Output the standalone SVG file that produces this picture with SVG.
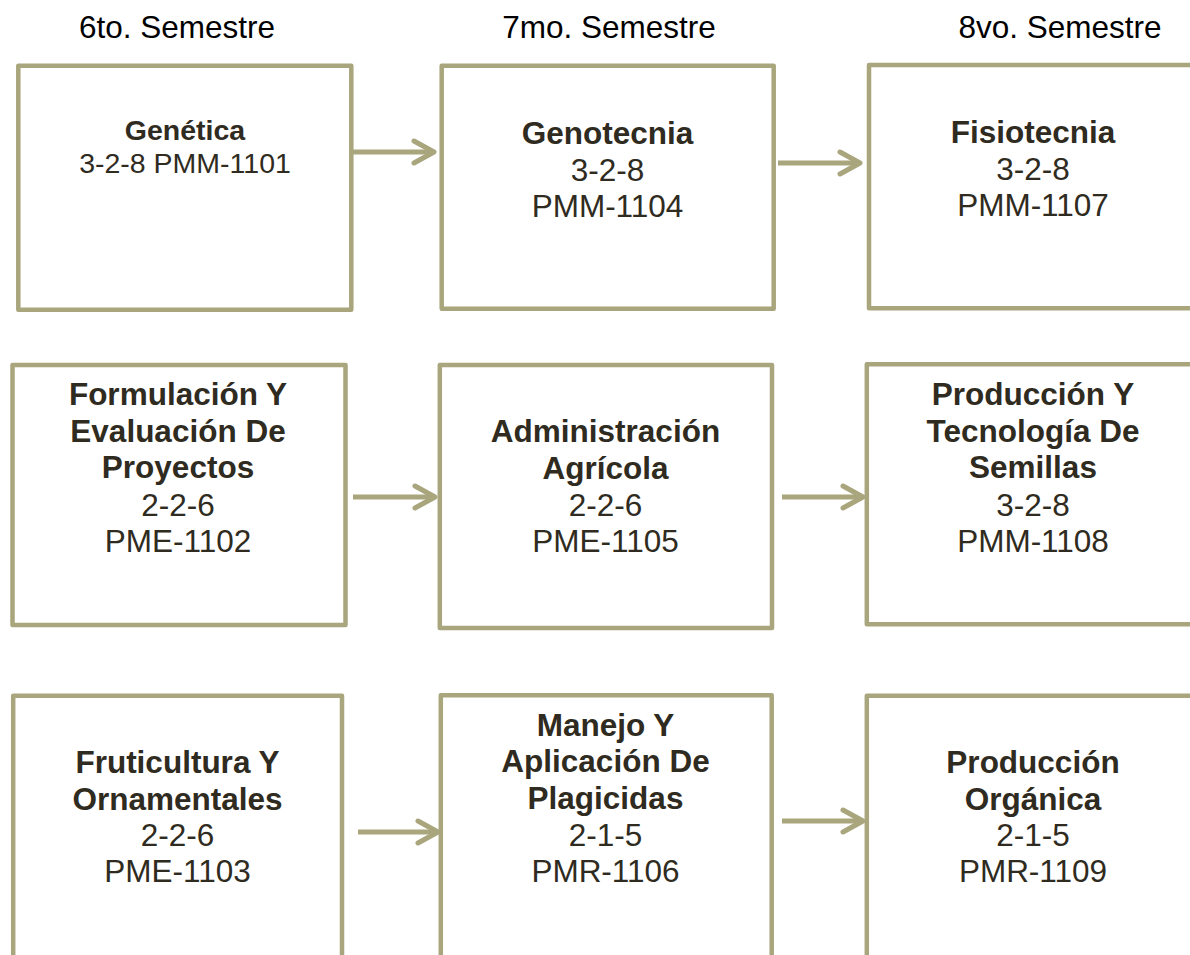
<svg xmlns="http://www.w3.org/2000/svg" width="1190" height="955" viewBox="0 0 1190 955">
  <style>
    .box { fill: #FFFFFF; stroke: #A9A57D; stroke-width: 4.5; stroke-linejoin: round; }
    .hdr { font-family: "Liberation Sans", Arial, sans-serif; font-size: 31.5px; fill: #000000; text-anchor: middle; }
    .t { font-family: "Liberation Sans", Arial, sans-serif; font-size: 31.5px; fill: #2F2B21; text-anchor: middle; }
    .b { font-weight: bold; }
    .sm { font-size: 28.5px; }
    .conn { fill: none; stroke: #A9A57D; stroke-width: 5; marker-end: url(#arrow); }
  </style>
  <defs>
    <marker id="arrow" markerUnits="userSpaceOnUse" viewBox="-26 -15 30 30" markerWidth="30" markerHeight="30" refX="-3" refY="0" orient="auto" overflow="visible">
      <path d="M -20,-11 L 0,0 L -20,11" fill="none" stroke="#A9A57D" stroke-width="5" stroke-linecap="round" stroke-linejoin="round"/>
    </marker>
  </defs>
  <rect width="1190" height="955" fill="#FFFFFF"/>

  <g id="headers">
    <text class="hdr" x="177" y="38">6to. Semestre</text>
    <text class="hdr" x="609" y="38">7mo. Semestre</text>
    <text class="hdr" x="1060" y="38">8vo. Semestre</text>
  </g>

  <g id="connectors">
    <line class="conn" x1="353" y1="152" x2="431" y2="152"/>
    <line class="conn" x1="778" y1="163" x2="857" y2="163"/>
    <line class="conn" x1="353" y1="497" x2="432" y2="497"/>
    <line class="conn" x1="782" y1="497" x2="860" y2="497"/>
    <line class="conn" x1="358" y1="832" x2="435" y2="832"/>
    <line class="conn" x1="782" y1="821" x2="860" y2="821"/>
  </g>

  <g id="genetica">
    <rect class="box" x="18.3" y="65.8" width="333" height="244"/>
    <text class="t b sm" x="185" y="140">Genética</text>
    <text class="t sm" x="185" y="173">3-2-8 PMM-1101</text>
  </g>

  <g id="genotecnia">
    <rect class="box" x="441.7" y="65.8" width="332" height="243"/>
    <text class="t b" x="607.5" y="144">Genotecnia</text>
    <text class="t" x="607.5" y="180.5">3-2-8</text>
    <text class="t" x="607.5" y="217">PMM-1104</text>
  </g>

  <g id="fisiotecnia">
    <rect class="box" x="869" y="65" width="340" height="243.3"/>
    <text class="t b" x="1033" y="143">Fisiotecnia</text>
    <text class="t" x="1033" y="179.5">3-2-8</text>
    <text class="t" x="1033" y="216">PMM-1107</text>
  </g>

  <g id="formulacion">
    <rect class="box" x="12.5" y="365" width="333" height="260"/>
    <text class="t b" x="178" y="405">Formulación Y</text>
    <text class="t b" x="178" y="441.7">Evaluación De</text>
    <text class="t b" x="178" y="478.3">Proyectos</text>
    <text class="t" x="178" y="515.5">2-2-6</text>
    <text class="t" x="178" y="552">PME-1102</text>
  </g>

  <g id="administracion">
    <rect class="box" x="439.8" y="365" width="332.2" height="263"/>
    <text class="t b" x="605.5" y="442">Administración</text>
    <text class="t b" x="605.5" y="478.5">Agrícola</text>
    <text class="t" x="605.5" y="515.5">2-2-6</text>
    <text class="t" x="605.5" y="552">PME-1105</text>
  </g>

  <g id="semillas">
    <rect class="box" x="866.8" y="364.2" width="340" height="260"/>
    <text class="t b" x="1033" y="405">Producción Y</text>
    <text class="t b" x="1033" y="441.7">Tecnología De</text>
    <text class="t b" x="1033" y="478.3">Semillas</text>
    <text class="t" x="1033" y="515.5">3-2-8</text>
    <text class="t" x="1033" y="552">PMM-1108</text>
  </g>

  <g id="fruticultura">
    <rect class="box" x="13.2" y="695.8" width="328.8" height="280"/>
    <text class="t b" x="177.5" y="773">Fruticultura Y</text>
    <text class="t b" x="177.5" y="809.5">Ornamentales</text>
    <text class="t" x="177.5" y="846">2-2-6</text>
    <text class="t" x="177.5" y="882">PME-1103</text>
  </g>

  <g id="plagicidas">
    <rect class="box" x="440.8" y="695.3" width="330.9" height="280"/>
    <text class="t b" x="605.5" y="735.5">Manejo Y</text>
    <text class="t b" x="605.5" y="772">Aplicación De</text>
    <text class="t b" x="605.5" y="808.5">Plagicidas</text>
    <text class="t" x="605.5" y="846">2-1-5</text>
    <text class="t" x="605.5" y="882">PMR-1106</text>
  </g>

  <g id="organica">
    <rect class="box" x="866.8" y="695.8" width="340" height="280"/>
    <text class="t b" x="1033" y="773">Producción</text>
    <text class="t b" x="1033" y="809.5">Orgánica</text>
    <text class="t" x="1033" y="846">2-1-5</text>
    <text class="t" x="1033" y="882">PMR-1109</text>
  </g>
</svg>
